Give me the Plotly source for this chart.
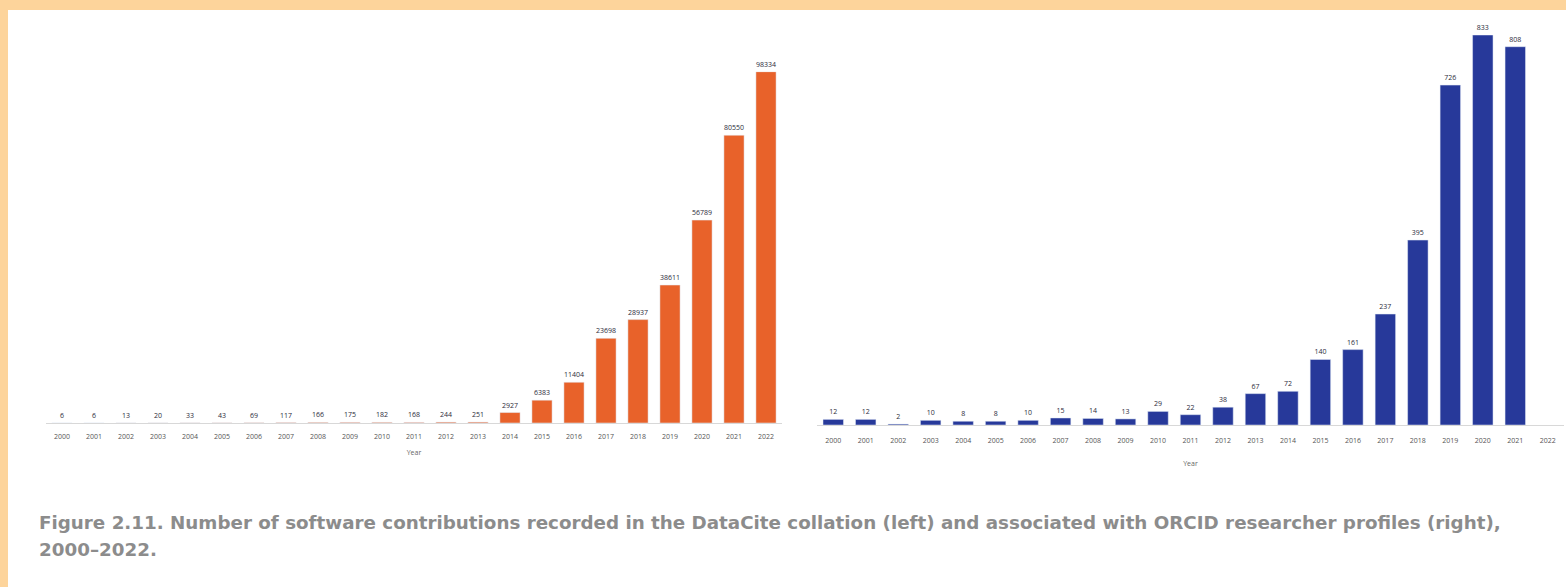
import plotly.graph_objects as go

years = [str(y) for y in range(2000, 2023)]
datacite = [6, 6, 13, 20, 33, 43, 69, 117, 166, 175, 182, 168, 244, 251,
            2927, 6383, 11404, 23698, 28937, 38611, 56789, 80550, 98334]
orcid_years = years[:-1]
orcid = [12, 12, 2, 10, 8, 8, 10, 15, 14, 13, 29, 22, 38, 67, 72,
         140, 161, 237, 395, 726, 833, 808]

caption_line1 = ("Figure 2.11. Number of software contributions recorded in the DataCite "
                 "collation (left) and associated with ORCID researcher profiles (right),")
caption_line2 = "2000–2022."

W, H = 1566, 587
ORANGE = "#E8622A"
BLUE = "#27399A"
BORDER = "#FDD49B"

def px_x(p):
    return p / W

def px_y(p):
    return 1 - p / H

fig = go.Figure()
fig.add_trace(go.Bar(
    x=years, y=datacite, marker_color=ORANGE, xaxis="x", yaxis="y",
    text=[str(v) for v in datacite], textposition="outside", cliponaxis=False,
    textfont=dict(size=7, color="#2b2b3a", family="Open Sans"),
    showlegend=False,
))
fig.add_trace(go.Bar(
    x=orcid_years, y=orcid, marker_color=BLUE, xaxis="x2", yaxis="y2",
    text=[str(v) for v in orcid], textposition="outside", cliponaxis=False,
    textfont=dict(size=7, color="#2b2b3a", family="Open Sans"),
    showlegend=False,
))

axis_common = dict(
    type="category", showgrid=False, zeroline=False, showline=True,
    linecolor="#d8d8d8", linewidth=1, ticks="outside", tickcolor="rgba(0,0,0,0)",
    tickfont=dict(size=7, color="#555555", family="Open Sans"),
    title_font=dict(size=7, color="#666666", family="Open Sans"),
    categoryorder="array", categoryarray=years,
    range=[-0.5, len(years) - 0.5],
)

fig.update_layout(
    width=W, height=H,
    margin=dict(l=0, r=0, t=0, b=0),
    paper_bgcolor="white", plot_bgcolor="white",
    bargap=0.37,
    xaxis=dict(domain=[px_x(46), px_x(782)], anchor="y", ticklen=7,
               title=dict(text="Year", standoff=9), **axis_common),
    yaxis=dict(domain=[px_y(423), px_y(71.7)], range=[0, 98334],
               visible=False, anchor="x"),
    xaxis2=dict(domain=[px_x(817), px_x(1564)], anchor="y2", ticklen=9,
                title=dict(text="Year", standoff=16), **axis_common),
    yaxis2=dict(domain=[px_y(425), px_y(35)], range=[0, 833],
                visible=False, anchor="x2"),
    shapes=[
        dict(type="rect", xref="paper", yref="paper", x0=0, x1=1,
             y0=px_y(10), y1=1, fillcolor=BORDER, line_width=0, layer="below"),
        dict(type="rect", xref="paper", yref="paper", x0=0, x1=px_x(8),
             y0=0, y1=1, fillcolor=BORDER, line_width=0, layer="below"),
    ],
    annotations=[
        dict(text="<b>" + caption_line1 + "</b>", xref="paper", yref="paper",
             x=px_x(37), y=px_y(522), xanchor="left", yanchor="middle",
             showarrow=False, font=dict(size=18.3, color="#8c8c8c", family="DejaVu Sans")),
        dict(text="<b>" + caption_line2 + "</b>", xref="paper", yref="paper",
             x=px_x(37), y=px_y(549), xanchor="left", yanchor="middle",
             showarrow=False, font=dict(size=18.3, color="#8c8c8c", family="DejaVu Sans")),
    ],
)

fig.write_html(
    "out.html",
    config={"displayModeBar": False},
    post_script="document.body.style.margin='0';document.body.style.overflow='hidden';",
)
